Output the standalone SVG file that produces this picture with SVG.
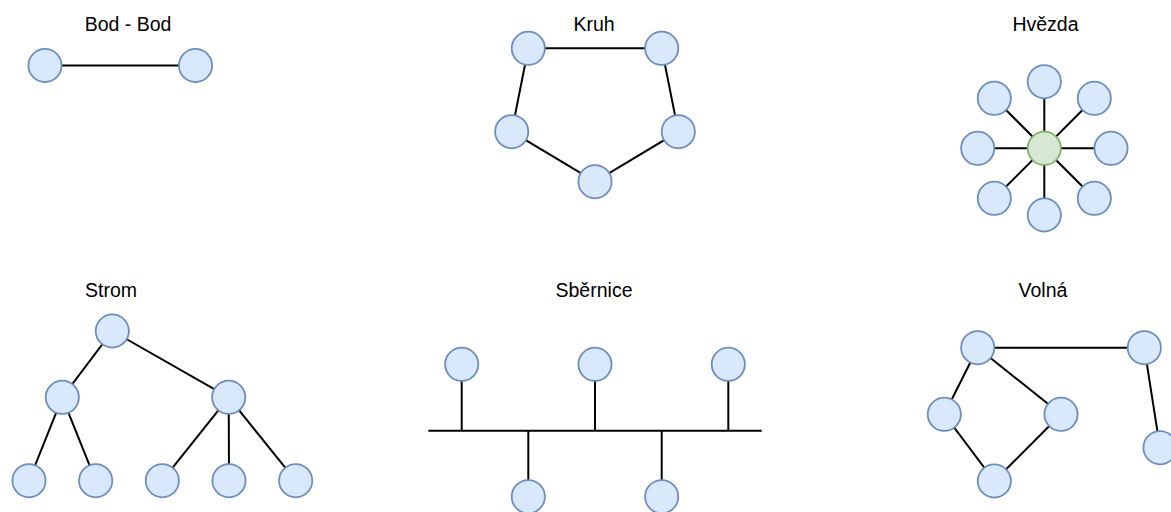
<svg xmlns="http://www.w3.org/2000/svg" width="1171" height="512" viewBox="0 0 1171 512">
  <style>
    .title { font-family: "Liberation Sans", Arial, sans-serif; font-size: 19.5px; fill: #000; text-anchor: middle; }
    .node { fill: #dae8fc; stroke: #6c8ebf; stroke-width: 1.8; }
    .hub { fill: #d5e8d4; stroke: #82b366; stroke-width: 1.8; }
    .edge { stroke: #000; stroke-width: 2; fill: none; }
  </style>
  <defs>
    <circle id="n" r="16.6"/>
  </defs>
  <rect width="1171" height="512" fill="#ffffff"/>

  <!-- titles -->
  <g id="titles">
    <text class="title" x="128" y="31">Bod - Bod</text>
    <text class="title" x="594" y="30.5">Kruh</text>
    <text class="title" x="1045.5" y="30.5">Hvězda</text>
    <text class="title" x="111" y="297">Strom</text>
    <text class="title" x="594" y="297">Sběrnice</text>
    <text class="title" x="1043" y="297">Volná</text>
  </g>

  <!-- connectors -->
  <g id="connectors" class="edge">
    <!-- point to point -->
    <line x1="45" y1="65.5" x2="195.5" y2="65.5"/>
    <!-- ring -->
    <polygon points="528.3,48.3 661.7,48.3 678.3,131.7 595,181.7 511.7,131.7"/>
    <!-- star -->
    <line x1="1044.3" y1="81.7" x2="1044.3" y2="215"/>
    <line x1="977.7" y1="148.3" x2="1111" y2="148.3"/>
    <line x1="994.3" y1="98.3" x2="1094.3" y2="198.3"/>
    <line x1="1094.3" y1="98.3" x2="994.3" y2="198.3"/>
    <!-- tree -->
    <line x1="112.3" y1="331" x2="62.3" y2="397.3"/>
    <line x1="112.3" y1="331" x2="228.7" y2="397.3"/>
    <line x1="62.3" y1="397.3" x2="29" y2="480.7"/>
    <line x1="62.3" y1="397.3" x2="95.7" y2="480.7"/>
    <line x1="228.7" y1="397.3" x2="162.3" y2="480.7"/>
    <line x1="228.7" y1="397.3" x2="229" y2="480.7"/>
    <line x1="228.7" y1="397.3" x2="295.7" y2="480.7"/>
    <!-- bus -->
    <line x1="428.3" y1="430.7" x2="761.7" y2="430.7"/>
    <line x1="461.7" y1="364.3" x2="461.7" y2="430.7"/>
    <line x1="595" y1="364.3" x2="595" y2="430.7"/>
    <line x1="728.3" y1="364.3" x2="728.3" y2="430.7"/>
    <line x1="528.3" y1="430.7" x2="528.3" y2="496.7"/>
    <line x1="661.7" y1="430.7" x2="661.7" y2="496.7"/>
    <!-- mesh -->
    <line x1="977.7" y1="347.7" x2="1144.3" y2="347.7"/>
    <line x1="977.7" y1="347.7" x2="944.3" y2="414.3"/>
    <line x1="977.7" y1="347.7" x2="1061" y2="414.3"/>
    <line x1="944.3" y1="414.3" x2="994.3" y2="481"/>
    <line x1="1061" y1="414.3" x2="994.3" y2="481"/>
    <line x1="1144.3" y1="347.7" x2="1160" y2="447.7"/>
  </g>

  <!-- point to point -->
  <g id="bod-a"><use href="#n" class="node" x="45" y="65.5"/></g>
  <g id="bod-b"><use href="#n" class="node" x="195.5" y="65.5"/></g>

  <!-- ring -->
  <g id="kruh-1"><use href="#n" class="node" x="528.3" y="48.3"/></g>
  <g id="kruh-2"><use href="#n" class="node" x="661.7" y="48.3"/></g>
  <g id="kruh-3"><use href="#n" class="node" x="678.3" y="131.7"/></g>
  <g id="kruh-4"><use href="#n" class="node" x="595" y="181.7"/></g>
  <g id="kruh-5"><use href="#n" class="node" x="511.7" y="131.7"/></g>

  <!-- star -->
  <g id="hvezda-n"><use href="#n" class="node" x="1044.3" y="81.7"/></g>
  <g id="hvezda-ne"><use href="#n" class="node" x="1094.3" y="98.3"/></g>
  <g id="hvezda-e"><use href="#n" class="node" x="1111" y="148.3"/></g>
  <g id="hvezda-se"><use href="#n" class="node" x="1094.3" y="198.3"/></g>
  <g id="hvezda-s"><use href="#n" class="node" x="1044.3" y="215"/></g>
  <g id="hvezda-sw"><use href="#n" class="node" x="994.3" y="198.3"/></g>
  <g id="hvezda-w"><use href="#n" class="node" x="977.7" y="148.3"/></g>
  <g id="hvezda-nw"><use href="#n" class="node" x="994.3" y="98.3"/></g>
  <g id="hvezda-hub"><use href="#n" class="hub" x="1044.3" y="148.3"/></g>

  <!-- tree -->
  <g id="strom-root"><use href="#n" class="node" x="112.3" y="331"/></g>
  <g id="strom-l"><use href="#n" class="node" x="62.3" y="397.3"/></g>
  <g id="strom-r"><use href="#n" class="node" x="228.7" y="397.3"/></g>
  <g id="strom-l1"><use href="#n" class="node" x="29" y="480.7"/></g>
  <g id="strom-l2"><use href="#n" class="node" x="95.7" y="480.7"/></g>
  <g id="strom-r1"><use href="#n" class="node" x="162.3" y="480.7"/></g>
  <g id="strom-r2"><use href="#n" class="node" x="229" y="480.7"/></g>
  <g id="strom-r3"><use href="#n" class="node" x="295.7" y="480.7"/></g>

  <!-- bus -->
  <g id="bus-t1"><use href="#n" class="node" x="461.7" y="364.3"/></g>
  <g id="bus-t2"><use href="#n" class="node" x="595" y="364.3"/></g>
  <g id="bus-t3"><use href="#n" class="node" x="728.3" y="364.3"/></g>
  <g id="bus-b1"><use href="#n" class="node" x="528.3" y="496.7"/></g>
  <g id="bus-b2"><use href="#n" class="node" x="661.7" y="496.7"/></g>

  <!-- mesh -->
  <g id="volna-1"><use href="#n" class="node" x="977.7" y="347.7"/></g>
  <g id="volna-2"><use href="#n" class="node" x="1144.3" y="347.7"/></g>
  <g id="volna-3"><use href="#n" class="node" x="944.3" y="414.3"/></g>
  <g id="volna-4"><use href="#n" class="node" x="1061" y="414.3"/></g>
  <g id="volna-5"><use href="#n" class="node" x="994.3" y="481"/></g>
  <g id="volna-6"><use href="#n" class="node" x="1160" y="447.7"/></g>
</svg>
